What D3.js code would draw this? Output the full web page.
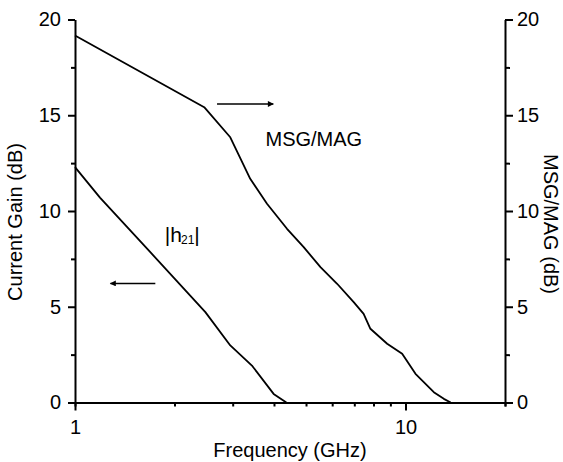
<!DOCTYPE html>
<html lang="en">
<head>
    <meta charset="UTF-8">
    <script src="https://d3js.org/d3.v7.min.js"></script>
    <title>Gain vs Frequency</title>
    <style>
        body { margin: 0; padding: 0; background: #fff; }
        svg text { font-family: "Liberation Sans", Arial, Helvetica, sans-serif; fill: #000; }
        .axis path, .axis line { stroke: #000; stroke-width: 2; }
        .curve { fill: none; stroke: #000; stroke-width: 1.8; stroke-linejoin: round; }
    </style>
</head>
<body>
    <div id="chart"></div>
    <script>
        // MSG/MAG curve (right axis)
        let msgFreq = [1, 2.46, 2.95, 3.39, 3.81, 4.38, 4.92, 5.53, 6.21, 6.97, 7.47, 7.83, 8.8, 9.77, 10.72, 12.18, 13.06, 13.7]
        let msgGain = [19.16, 15.42, 13.85, 11.68, 10.38, 9.07, 8.11, 7.07, 6.2, 5.24, 4.63, 3.85, 3.07, 2.54, 1.5, 0.54, 0.19, 0]
        // |h21| curve (left axis)
        let h21Freq = [1, 1.19, 1.69, 2.48, 2.95, 3.43, 3.99, 4.36]
        let h21Gain = [12.29, 10.7, 7.85, 4.72, 2.98, 1.93, 0.45, 0]

        let yMajor = [0, 5, 10, 15, 20]
        let yMinor = [2.5, 7.5, 12.5, 17.5]
        let xMajor = [1, 10]
        let xMinor = [2, 3, 4, 5, 6, 7, 8, 9, 20]

        let W = 563, H = 462
        let svg = d3.select("#chart").append("svg").attr("width", W).attr("height", H)

        let x = d3.scaleLog().domain([1, 20]).range([75, 505])
        let y = d3.scaleLinear().domain([0, 20]).range([402.5, 19.5])

        // axes
        let bottom = svg.append("g").attr("class", "axis").attr("transform", "translate(0," + y(0) + ")")
        bottom.call(d3.axisBottom(x).tickValues(xMinor).tickSize(4).tickFormat(""))
        bottom.append("g").call(d3.axisBottom(x).tickValues(xMajor).tickSize(8).tickSizeOuter(0).tickPadding(9).tickFormat(d3.format("d")))
            .select(".domain").remove()

        let left = svg.append("g").attr("class", "axis").attr("transform", "translate(" + x(1) + ",0)")
        left.call(d3.axisLeft(y).tickValues(yMinor).tickSize(4).tickSizeOuter(0).tickFormat(""))
        left.append("g").call(d3.axisLeft(y).tickValues(yMajor).tickSize(7).tickPadding(7))
            .select(".domain").remove()

        let right = svg.append("g").attr("class", "axis").attr("transform", "translate(" + x(20) + ",0)")
        right.call(d3.axisRight(y).tickValues(yMinor).tickSize(5).tickSizeOuter(0).tickFormat(""))
        right.append("g").call(d3.axisRight(y).tickValues(yMajor).tickSize(8).tickPadding(4))
            .select(".domain").remove()

        svg.selectAll(".axis text").attr("font-size", 20)

        // curves
        let line = d3.line().x(d => x(d[0])).y(d => y(d[1]))
        svg.append("path").attr("class", "curve").attr("d", line(d3.zip(msgFreq, msgGain)))
        svg.append("path").attr("class", "curve").attr("d", line(d3.zip(h21Freq, h21Gain)))

        // arrows
        svg.append("defs").append("marker").attr("id", "head")
            .attr("viewBox", "0 0 10 10").attr("refX", 9).attr("refY", 5)
            .attr("markerWidth", 9).attr("markerHeight", 6).attr("markerUnits", "userSpaceOnUse")
            .attr("orient", "auto")
            .append("path").attr("d", "M0,0L10,5L0,10z").attr("fill", "#000")

        svg.append("line").attr("x1", x(2.69)).attr("x2", x(3.98)).attr("y1", y(15.59)).attr("y2", y(15.59))
            .attr("stroke", "#000").attr("stroke-width", 1.5).attr("marker-end", "url(#head)")
        svg.append("line").attr("x1", x(1.75)).attr("x2", x(1.28)).attr("y1", y(6.22)).attr("y2", y(6.22))
            .attr("stroke", "#000").attr("stroke-width", 1.5).attr("marker-end", "url(#head)")

        // labels
        svg.append("text").attr("x", x(3.77)).attr("y", y(13.41)).attr("font-size", 20).text("MSG/MAG")

        let h = svg.append("text").attr("x", x(1.87)).attr("y", y(8.38)).attr("font-size", 21)
        h.append("tspan").text("|")
        h.append("tspan").text("h")
        h.append("tspan").attr("font-size", 12).attr("dx", -1).attr("dy", 2).text("21")
        h.append("tspan").attr("dy", -2).text("|")

        // axis titles
        svg.append("text").attr("text-anchor", "middle").attr("font-size", 20)
            .attr("x", (x(1) + x(20)) / 2).attr("y", 457).text("Frequency (GHz)")
        svg.append("text").attr("text-anchor", "middle").attr("font-size", 20)
            .attr("transform", "translate(22,222) rotate(-90)").text("Current Gain (dB)")
        svg.append("text").attr("text-anchor", "middle").attr("font-size", 20)
            .attr("transform", "translate(544,224) rotate(90)").text("MSG/MAG (dB)")
    </script>
</body>
</html>
